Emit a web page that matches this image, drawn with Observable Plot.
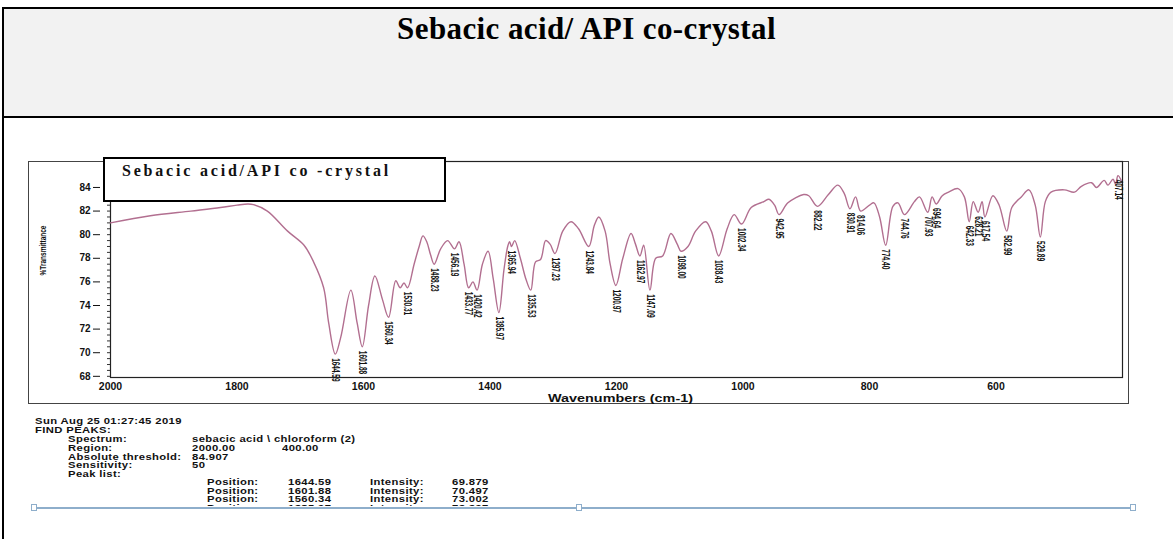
<!DOCTYPE html>
<html>
<head>
<meta charset="utf-8">
<script src="https://cdn.jsdelivr.net/npm/d3@7"></script>
<script src="https://cdn.jsdelivr.net/npm/@observablehq/plot@0.6"></script>
<style>
  html, body { margin: 0; padding: 0; }
  body { width: 1173px; height: 539px; overflow: hidden; background: #fff; position: relative;
         font-family: "Liberation Sans", Arial, sans-serif; }
  .abs { position: absolute; }
  #bTop { left: 2px; top: 7px; width: 1171px; height: 2px; background: #000; }
  #bLeft { left: 2px; top: 7px; width: 2px; height: 532px; background: #000; }
  #titleCell { left: 4px; top: 9px; width: 1169px; height: 107px; background: #f2f2f2; }
  #bMid { left: 2px; top: 116px; width: 1171px; height: 2px; background: #000; }
  #title { left: 0; top: 11px; width: 1173px; text-align: center; letter-spacing: 0.4px;
           font: bold 31px "Liberation Serif", "Times New Roman", serif; color: #000; }
  #outerBox { left: 28px; top: 161px; width: 1099px; height: 241px; border: 1px solid #444; }
  #chart { left: 0; top: 140px; }
  #legendBox { left: 103px; top: 157px; width: 339px; height: 41px; border: 2px solid #000; background: #fff; }
  #legendText { left: 122px; top: 162px; font: bold 16px "Liberation Serif", "Times New Roman", serif;
                letter-spacing: 2.8px; color: #111; white-space: pre; }
  .info { position: absolute; font: bold 9px "Liberation Sans", Arial, sans-serif; letter-spacing: 0.3px;
          color: #111; white-space: pre; line-height: 8px; height: 8px;
          transform: scaleX(1.25); transform-origin: 0 50%; }
  #infoClip { left: 0; top: 400px; width: 1173px; height: 106px; overflow: hidden; }
  #blueLine { left: 33px; top: 507px; width: 1100px; height: 2px; background: #8eaecb; }
  .handle { position: absolute; width: 4px; height: 5px; border: 1px solid #8eaecb; background: #fff; top: 504px; }
</style>
</head>
<body>
<div id="titleCell" class="abs"></div>
<div id="bTop" class="abs"></div>
<div id="bLeft" class="abs"></div>
<div id="bMid" class="abs"></div>
<div id="title" class="abs">Sebacic acid/ API co-crystal</div>
<div id="outerBox" class="abs"></div>
<div id="chart" class="abs"></div>
<div id="legendBox" class="abs"></div>
<div id="legendText" class="abs">Sebacic acid/API co -crystal</div>
<div id="infoClip" class="abs"></div>
<div id="blueLine" class="abs"></div>
<div class="handle" style="left:31px"></div>
<div class="handle" style="left:576px"></div>
<div class="handle" style="left:1130px"></div>

<script>
// ---- spectrum ----
const wavenumbers = [
  2000,1937,1873,1826,1800,1783,1774,1752,1720,1694,
  1679,1663,1655,1644.59,1636,1620,1610,1601.88,1592,1582,
  1570,1560.34,1549,1542,1536,1530.31,1520,1512,1506,1500,
  1494,1488.23,1478,1467,1456.19,1449,1441,1433.77,1427,1420.42,
  1412,1403,1395,1385.97,1378,1372,1369,1365.94,1361,1352,
  1343,1335.53,1328,1320,1312,1305,1297.23,1285,1272,1260,
  1243.84,1235,1228,1218,1210,1200.97,1190,1177,1170,1162.97,
  1157,1147.09,1138,1127,1114,1104,1098,1087,1075,1059,
  1050,1038.43,1025,1014,1002.34,987,967,959,950,942.95,
  929,904,896,882.22,865,850,840,830.91,822,814.06,
  800,793,784,774.40,763,755,744.76,729,721,707.93,
  701,694.64,685,675,660,650,642.33,636,628.21,622,
  617.54,605,595,582.99,575,560,548,538,529.89,522,
  513,492,476,465,449,441,429,423,415,411,407.14,402
];
const transmittance = [
  81.0,81.6,82.0,82.3,82.5,82.6,82.55,82.0,80.3,79.1,
  77.7,75.5,72.5,69.88,71.3,75.3,72.5,70.5,74.0,76.5,
  74.5,73.0,76.1,75.5,75.9,75.5,77.5,79.0,79.9,79.4,
  78.3,77.5,78.8,79.5,78.8,79.4,77.5,75.5,76.0,75.3,
  77.5,78.6,76.3,73.4,77.0,79.0,79.4,79.0,79.5,78.0,
  76.2,75.3,77.7,77.9,79.5,79.2,78.4,80.3,81.1,80.5,
  79.0,80.8,81.5,80.3,77.5,75.7,78.0,80.1,79.2,78.2,
  79.1,75.3,78.0,78.2,80.1,79.2,78.6,79.0,80.3,81.1,
  80.3,78.2,80.5,81.7,80.9,82.3,82.8,83.0,82.5,81.7,
  82.7,83.4,83.3,82.4,83.4,84.2,83.5,82.2,83.2,82.0,
  82.5,82.7,81.5,79.1,82.4,82.7,81.7,82.8,83.2,81.9,
  83.2,82.6,83.3,83.6,83.9,83.2,81.1,82.8,81.9,82.8,
  81.5,83.3,82.5,80.3,82.3,83.2,83.8,82.5,79.8,82.8,
  83.6,83.8,83.6,84.1,84.4,84.0,84.6,84.2,84.7,84.3,85.0,84.6
];
// ---- labelled peaks ----
const peakLabels = ["1644.59","1601.88","1560.34","1530.31","1488.23","1456.19","1433.77","1420.42",
  "1385.97","1365.94","1335.53","1297.23","1243.84","1200.97","1162.97","1147.09","1098.00",
  "1038.43","1002.34","942.95","882.22","830.91","814.06","774.40","744.76","707.93","694.64",
  "642.33","628.21","617.54","582.99","529.89","407.14"];
// ---- axes ----
const xTicks = [2000, 1800, 1600, 1400, 1200, 1000, 800, 600];
const yTicks = [68, 70, 72, 74, 76, 78, 80, 82, 84];
const xTitle = "Wavenumbers (cm-1)";
const yTitle = "%Transmittance";
// ---- find-peaks report ----
const reportDate = "Sun Aug 25 01:27:45 2019";
const reportSpectrum = "sebacic acid \\ chloroform (2)";
const reportRegion = ["2000.00", "400.00"];
const reportThreshold = "84.907";
const reportSensitivity = "50";
const listPositions = ["1644.59", "1601.88", "1560.34", "1385.97"];
const listIntensities = ["69.879", "70.497", "73.002", "73.397"];

const spectrum = wavenumbers.map((w, i) => ({w, t: transmittance[i]}));
const peaks = peakLabels.map(s => {
  const w = +s;
  const i = wavenumbers.findIndex(v => Math.abs(v - w) < 1e-6);
  return {w, t: transmittance[i], label: s};
});

const narrow = "'Liberation Sans Narrow', 'Liberation Sans', Arial, sans-serif";
const chart = Plot.plot({
  width: 1173, height: 270,
  marginLeft: 110, marginRight: 51, marginTop: 21, marginBottom: 33,
  x: {domain: [2000, 400], label: null},
  y: {domain: [67.9, 86.2], label: null},
  style: {background: "transparent", fontFamily: "'Liberation Sans', Arial, sans-serif", color: "#111"},
  marks: [
    Plot.frame({stroke: "#222", strokeWidth: 1.2}),
    Plot.axisY({interval: 0.5, tickSize: 3, tickFormat: () => "", stroke: "#333"}),
    Plot.axisY({ticks: yTicks, tickSize: 7, tickPadding: 3, dx: -10, fontSize: 10, fontWeight: "bold", tickFormat: "d"}),
    Plot.axisX({ticks: xTicks, tickSize: 0, tickPadding: 5, fontSize: 10.5, fontWeight: "bold", tickFormat: "d"}),
    Plot.text([xTitle], {text: d => d, frameAnchor: "bottom", lineAnchor: "middle", dy: 21, dx: 4,
      fontSize: 10.5, fontWeight: "bold"}),
    Plot.text([yTitle], {text: d => d, frameAnchor: "left", rotate: -90, dx: -67, dy: 6, fontSize: 8.5,
      fontWeight: "bold", fontFamily: narrow}),
    Plot.line(spectrum, {x: "w", y: "t", stroke: "#b26f90", strokeWidth: 1.4, curve: "catmull-rom"}),
    Plot.text(peaks, {x: "w", y: "t", text: "label", rotate: 90, textAnchor: "start", lineAnchor: "middle",
      dy: 4, fontSize: 10, fontWeight: "bold", fill: "#111", fontFamily: narrow})
  ]
});
document.getElementById("chart").appendChild(chart);

// condense the narrow scanned-style labels
const peakSet = new Set(peakLabels);
chart.querySelectorAll("text").forEach(t => {
  const s = t.textContent;
  let len = null;
  if (peakSet.has(s)) len = s.length * 3.35;
  else if (s === yTitle) len = 50;
  else if (s === xTitle) len = 145;
  if (len != null) {
    t.setAttribute("textLength", len.toFixed(1));
    t.setAttribute("lengthAdjust", "spacingAndGlyphs");
  }
});

// report text
const clip = document.getElementById("infoClip");
function put(txt, x, yc) {
  const d = document.createElement("div");
  d.className = "info";
  d.textContent = txt;
  d.style.left = x + "px";
  d.style.top = (yc - 400 - 4) + "px";
  clip.appendChild(d);
}
put(reportDate, 35, 421);
put("FIND PEAKS:", 35, 430);
put("Spectrum:", 68, 439);   put(reportSpectrum, 192, 439);
put("Region:", 68, 448);     put(reportRegion[0], 192, 448); put(reportRegion[1], 282, 448);
put("Absolute threshold:", 68, 456.5); put(reportThreshold, 192, 456.5);
put("Sensitivity:", 68, 465); put(reportSensitivity, 192, 465);
put("Peak list:", 68, 473.5);
listPositions.forEach((p, i) => {
  const yc = 482 + i * 8.5;
  put("Position:", 207, yc); put(p, 288, yc);
  put("Intensity:", 370, yc); put(listIntensities[i], 452, yc);
});
</script>
</body>
</html>
